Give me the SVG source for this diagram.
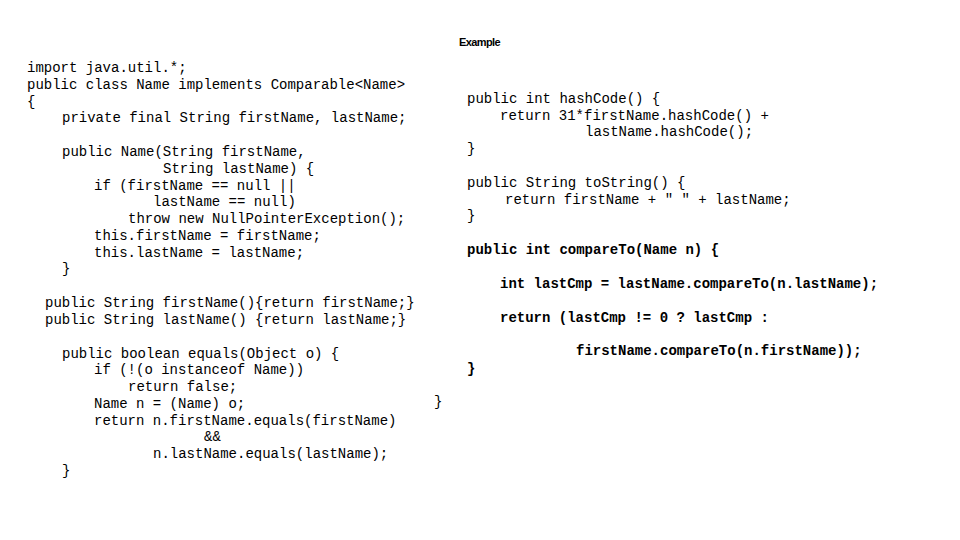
<svg xmlns="http://www.w3.org/2000/svg" width="960" height="540" viewBox="0 0 960 540">
<style>
text{font-family:"Liberation Mono","Courier New",monospace;font-size:14px;fill:#000;white-space:pre}
.b{font-weight:bold}
.t{font-family:"Liberation Sans",Arial,sans-serif;font-size:11px;font-weight:bold;letter-spacing:-0.6px}
</style>
<rect width="960" height="540" fill="#fff"/>
<text class="t" x="459" y="46">Example</text>
<g id="left">
<text x="27" y="72">import java.util.*;</text>
<text x="27" y="89">public class Name implements Comparable&lt;Name&gt;</text>
<text x="27" y="106">{</text>
<text x="62" y="122">private final String firstName, lastName;</text>
<text x="62" y="156">public Name(String firstName,</text>
<text x="163" y="173">String lastName) {</text>
<text x="94" y="190">if (firstName == null ||</text>
<text x="153" y="206">lastName == null)</text>
<text x="128" y="223">throw new NullPointerException();</text>
<text x="94" y="240">this.firstName = firstName;</text>
<text x="94" y="257">this.lastName = lastName;</text>
<text x="62" y="273">}</text>
<text x="45" y="307">public String firstName(){return firstName;}</text>
<text x="45" y="324">public String lastName() {return lastName;}</text>
<text x="62" y="358">public boolean equals(Object o) {</text>
<text x="94" y="374">if (!(o instanceof Name))</text>
<text x="128" y="391">return false;</text>
<text x="94" y="408">Name n = (Name) o;</text>
<text x="94" y="425">return n.firstName.equals(firstName)</text>
<text x="204" y="441">&amp;&amp;</text>
<text x="153" y="458">n.lastName.equals(lastName);</text>
<text x="62" y="475">}</text>
</g>
<g id="right">
<text x="467" y="103">public int hashCode() {</text>
<text x="500" y="120">return 31*firstName.hashCode() +</text>
<text x="585" y="136">lastName.hashCode();</text>
<text x="467" y="153">}</text>
<text x="467" y="187">public String toString() {</text>
<text x="505" y="204">return firstName + " " + lastName;</text>
<text x="467" y="220">}</text>
<text class="b" x="467" y="254">public int compareTo(Name n) {</text>
<text class="b" x="500" y="288">int lastCmp = lastName.compareTo(n.lastName);</text>
<text class="b" x="500" y="322">return (lastCmp != 0 ? lastCmp :</text>
<text class="b" x="576" y="355">firstName.compareTo(n.firstName));</text>
<text class="b" x="467" y="373">}</text>
<text x="434" y="406">}</text>
</g>
</svg>
